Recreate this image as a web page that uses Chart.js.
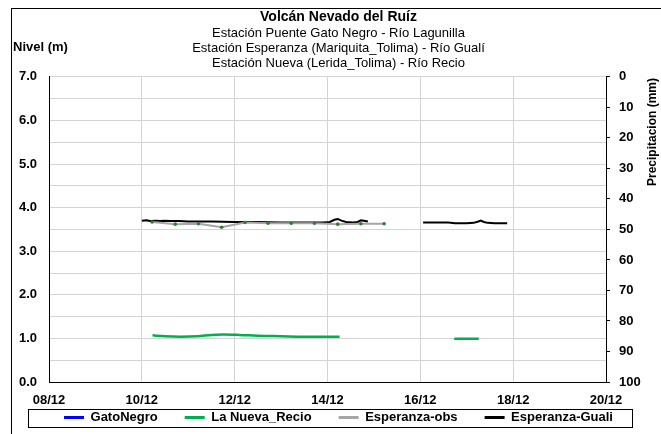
<!DOCTYPE html>
<html>
<head>
<meta charset="utf-8">
<script src="https://cdn.jsdelivr.net/npm/chart.js@4.4.1/dist/chart.umd.min.js"></script>
<style>
    body { margin: 0; background: #fff; }
</style>
</head>
<body>
<canvas id="nivelChart" width="661" height="434"></canvas>
<script>
// Days of December (decimal), null = gap in the record
const gatoDays = [];
const gatoLevel = [];

const recioDays  = [10.23, 10.5, 10.83, 11.2, 11.5, 11.75, 12.1, 12.5, 13.0, 13.5, 14.26, 15.5, 16.73, 17.26];
const recioLevel = [1.07, 1.05, 1.04, 1.05, 1.08, 1.09, 1.08, 1.06, 1.05, 1.04, 1.04, null, 0.99, 0.99];

const obsDays  = [10.22, 10.72, 11.22, 11.72, 12.22, 12.72, 13.22, 13.72, 14.22, 14.72, 15.22];
const obsLevel = [3.67, 3.62, 3.63, 3.55, 3.66, 3.64, 3.64, 3.64, 3.62, 3.63, 3.63];

const gualiDays  = [10.0, 10.1, 10.2, 10.3, 10.4, 10.5, 10.6, 10.8, 11.0, 11.5, 12.0, 12.5, 13.0, 13.5, 13.9,
                    14.05, 14.15, 14.22, 14.3, 14.4, 14.55, 14.65, 14.72, 14.78, 14.87, 15.5,
                    16.06, 16.4, 16.6, 16.75, 17.0, 17.15, 17.25, 17.3, 17.37, 17.45, 17.6, 17.87];
const gualiLevel = [3.70, 3.71, 3.69, 3.70, 3.69, 3.70, 3.69, 3.69, 3.68, 3.68, 3.67, 3.67, 3.66, 3.66, 3.66,
                    3.67, 3.72, 3.74, 3.70, 3.67, 3.66, 3.67, 3.71, 3.70, 3.68, null,
                    3.66, 3.66, 3.66, 3.64, 3.64, 3.65, 3.68, 3.70, 3.67, 3.65, 3.64, 3.64];

const titleText = 'Volcán Nevado del Ruíz';
const subtitleLines = [
    'Estación Puente Gato Negro - Río Lagunilla',
    'Estación Esperanza (Mariquita_Tolima) - Río Gualí',
    'Estación Nueva (Lerida_Tolima) - Río Recio'
];
const seriesNames = ['GatoNegro', 'La Nueva_Recio', 'Esperanza-obs', 'Esperanza-Guali'];

const FONT = "'Liberation Sans', Arial, sans-serif";

function toPoints(days, vals) {
    return days.map((d, i) => ({ x: d, y: vals[i] }));
}

// Frames and the loose axis captions Excel puts around the plot
const decorPlugin = {
    id: 'decor',
    afterLayout(chart) {
        // legend row sits just under the date labels, spacing stays wide
        const legend = chart.legend;
        const pad = legend.options.labels.padding;
        legend.top = chart.scales.x.bottom + 2 - pad;
        legend.bottom = chart.height;
        legend.height = legend.bottom - legend.top;
    },
    afterDraw(chart) {
        const ctx = chart.ctx;
        ctx.save();
        ctx.strokeStyle = '#000';
        ctx.lineWidth = 1;
        ctx.strokeRect(11.5, 8.5, chart.width - 4, chart.height);

        const boxes = chart.legend.legendHitBoxes;
        if (boxes && boxes.length) {
            const first = boxes[0];
            const last = boxes[boxes.length - 1];
            const left = Math.round(first.left - 36) + 0.5;
            const right = Math.round(last.left + last.width + 19) + 0.5;
            const top = Math.round(first.top - 2) + 0.5;
            const bottom = Math.round(first.top + first.height + 3) + 0.5;
            ctx.strokeRect(left, top, right - left, bottom - top);
        }

        ctx.fillStyle = '#000';
        ctx.font = 'bold 13px ' + FONT;
        ctx.textAlign = 'left';
        ctx.textBaseline = 'middle';
        ctx.fillText('Nivel (m)', 13, 47);

        ctx.font = 'bold 12px ' + FONT;
        ctx.translate(653, 132);
        ctx.rotate(-Math.PI / 2);
        ctx.textAlign = 'center';
        ctx.fillText('Precipitacion (mm)', 0, 0);
        ctx.restore();
    }
};

const ctx = document.getElementById('nivelChart').getContext('2d');
Chart.defaults.color = '#000';
Chart.defaults.font.family = FONT;

new Chart(ctx, {
    type: 'line',
    data: {
        datasets: [
            {
                label: seriesNames[0],
                data: toPoints(gatoDays, gatoLevel),
                borderColor: '#0000ff',
                backgroundColor: '#0000ff',
                borderWidth: 2.5,
                pointRadius: 0
            },
            {
                label: seriesNames[1],
                data: toPoints(recioDays, recioLevel),
                borderColor: '#00b050',
                backgroundColor: '#00b050',
                borderWidth: 2.5,
                pointRadius: 0,
                cubicInterpolationMode: 'monotone'
            },
            {
                label: seriesNames[2],
                data: toPoints(obsDays, obsLevel),
                borderColor: '#a6a6a6',
                backgroundColor: '#a6a6a6',
                borderWidth: 2,
                pointRadius: 1.8,
                pointBorderWidth: 0,
                pointBackgroundColor: '#2f7f2f'
            },
            {
                label: seriesNames[3],
                data: toPoints(gualiDays, gualiLevel),
                borderColor: '#000',
                backgroundColor: '#000',
                borderWidth: 2,
                pointRadius: 0
            }
        ]
    },
    options: {
        responsive: false,
        animation: false,
        devicePixelRatio: 1,
        spanGaps: false,
        layout: { padding: { left: 16, right: 0, top: 0, bottom: 0 } },
        scales: {
            x: {
                type: 'linear',
                min: 8,
                max: 20,
                afterFit: s => { s.height = 27; },
                border: { color: '#000', width: 1 },
                grid: { color: '#d4d4d4', drawTicks: false },
                ticks: {
                    stepSize: 2,
                    padding: 11,
                    maxRotation: 0,
                    font: { size: 13, weight: 'bold' },
                    callback: v => String(v).padStart(2, '0') + '/12'
                }
            },
            y: {
                position: 'left',
                min: 0,
                max: 7,
                afterFit: s => { s.width = 33; },
                border: { color: '#000', width: 1 },
                grid: { color: '#d4d4d4', drawTicks: false },
                ticks: {
                    stepSize: 0.5,
                    autoSkip: false,
                    padding: 12,
                    font: { size: 13, weight: 'bold' },
                    callback: v => (v % 1 === 0 ? v.toFixed(1) : '')
                }
            },
            y2: {
                position: 'right',
                min: 0,
                max: 100,
                reverse: true,
                afterFit: s => { s.width = 55; },
                border: { color: '#000', width: 1 },
                grid: { drawOnChartArea: false, color: '#000', tickLength: 4 },
                ticks: {
                    stepSize: 10,
                    autoSkip: false,
                    padding: 9,
                    font: { size: 13, weight: 'bold' }
                }
            }
        },
        plugins: {
            title: {
                display: true,
                text: titleText,
                color: '#000',
                font: { size: 14, weight: 'bold' },
                padding: { top: 9, bottom: 0 }
            },
            subtitle: {
                display: true,
                text: subtitleLines,
                color: '#000',
                font: { size: 13, weight: 'normal', lineHeight: 1.154 },
                padding: { top: 0, bottom: 6 }
            },
            legend: {
                position: 'bottom',
                maxHeight: 25,
                labels: {
                    boxWidth: 20,
                    boxHeight: 3,
                    padding: 27,
                    color: '#000',
                    font: { size: 13, weight: 'bold' },
                    generateLabels: chart => Chart.defaults.plugins.legend.labels.generateLabels(chart)
                        .map(item => Object.assign(item, { lineWidth: 0, fillStyle: item.strokeStyle }))
                }
            },
            tooltip: { enabled: false }
        }
    },
    plugins: [decorPlugin]
});
</script>
</body>
</html>
